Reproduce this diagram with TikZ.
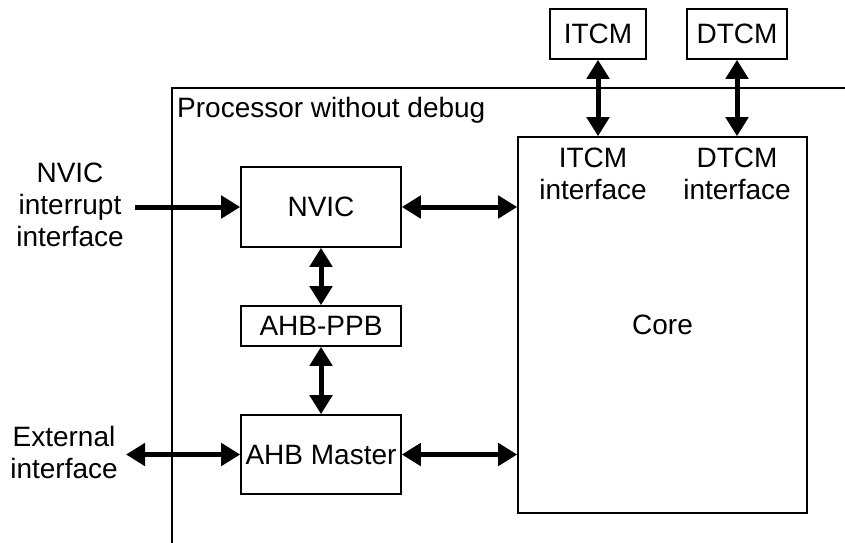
\documentclass[tikz,border=0pt]{standalone}
\usepackage{fontspec}
\setmainfont{Liberation Sans}
\usetikzlibrary{arrows.meta}
\begin{document}
\begin{tikzpicture}[x=1pt,y=-1pt,
  box/.style={draw,line width=1.6pt,inner sep=0pt,font=\fontsize{28}{32}\selectfont},
  lbl/.style={align=center,inner sep=0pt,font=\fontsize{28}{32}\selectfont},
  tip/.tip={Triangle[length=19pt,width=22pt]},
  biconn/.style={line width=5pt,tip-tip},
  uniconn/.style={line width=5pt,-tip}]
\useasboundingbox (0,0) rectangle (845,542);
% outer frame
\draw[line width=1.5pt] (846,88) -- (172,88) -- (172,543);
\node[lbl,anchor=base west] (proc) at (177,117) {Processor without debug};
% boxes
\node[box,minimum width=96pt,minimum height=50pt] (itcm) at (598,34) {ITCM};
\node[box,minimum width=100pt,minimum height=50pt] (dtcm) at (737,34) {DTCM};
\node[box,minimum width=289pt,minimum height=376pt] (core) at (662.5,325) {Core};
\node[box,minimum width=160pt,minimum height=80pt] (nvic) at (321,207) {NVIC};
\node[box,minimum width=160pt,minimum height=40pt] (ppb) at (321,326) {AHB-PPB};
\node[box,minimum width=160pt,minimum height=79pt] (ahbm) at (321,454.5) {AHB Master};
% labels
\node[lbl] (itcmif) at (593,174) {ITCM\\interface};
\node[lbl] (dtcmif) at (737,174) {DTCM\\interface};
\node[lbl] (nvicext) at (70,204.5) {NVIC\\interrupt\\interface};
\node[lbl] (extif) at (64,452) {External\\interface};
\coordinate (nvicin) at (135,207);
\coordinate (extin) at (126,454.5);
% connectors
\draw[biconn] (itcm.south) -- (itcm.south |- core.north);
\draw[biconn] (dtcm.south) -- (dtcm.south |- core.north);
\draw[uniconn] (nvicin) -- (nvic.west);
\draw[biconn] (nvic.east) -- (nvic.east -| core.west);
\draw[biconn] (nvic.south) -- (ppb.north);
\draw[biconn] (ppb.south) -- (ahbm.north);
\draw[biconn] (extin) -- (ahbm.west);
\draw[biconn] (ahbm.east) -- (ahbm.east -| core.west);
\end{tikzpicture}
\end{document}
